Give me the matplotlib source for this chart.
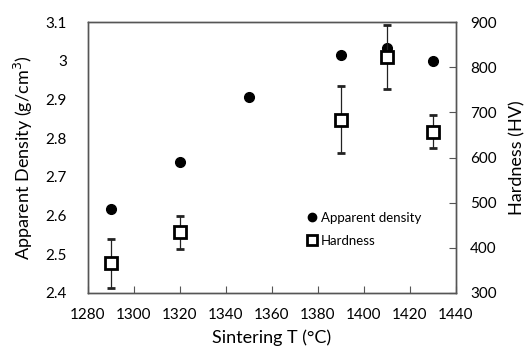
import matplotlib
matplotlib.use("Agg")
import matplotlib.pyplot as plt
from matplotlib.lines import Line2D

temps = [1290, 1320, 1350, 1390, 1410, 1430]
density = [2.617, 2.738, 2.907, 3.015, 3.034, 3.000]
h_temps = [1290, 1320, 1390, 1410, 1430]
hardness = [366, 434, 684, 823, 657]
hardness_err = [54, 37, 74, 71, 37]

plt.rcParams['font.family'] = ['Lato', 'DejaVu Sans']

fig = plt.figure(figsize=(5.25, 3.5), dpi=100)
ax = fig.add_axes([88/525, 1-293/350, 368/525, 271/350])
ax2 = ax.twinx()

ax.plot(temps, density, 'o', color='black', markersize=7, zorder=3)
ax2.errorbar(h_temps, hardness, yerr=hardness_err, fmt='s', mfc='white', mec='black',
             mew=2, markersize=8, ecolor='#222222', elinewidth=0.9, capsize=3, capthick=0.9,
             zorder=3)

ax.set_xlim(1280, 1440)
ax.set_ylim(2.4, 3.1)
ax2.set_ylim(300, 900)
ax.set_xticks(range(1280, 1441, 20))
ax.set_yticks([2.4, 2.5, 2.6, 2.7, 2.8, 2.9, 3.0, 3.1])
ax.set_yticklabels(['2.4', '2.5', '2.6', '2.7', '2.8', '2.9', '3', '3.1'])
ax2.set_yticks(range(300, 901, 100))

ax.tick_params(axis='x', direction='in', length=5, labelsize=11, pad=11, color='#555555')
ax.tick_params(axis='y', length=0, labelsize=11, pad=15)
ax2.tick_params(axis='y', direction='in', length=5, labelsize=11, pad=10, color='#555555')
for a in (ax, ax2):
    for s in a.spines.values():
        s.set_color('#555555')
        s.set_linewidth(1)

ax.set_xlabel('Sintering T (°C)', fontsize=13, labelpad=5)
ax.set_ylabel('Apparent Density (g/cm$^3$)', fontsize=13, labelpad=8)
ax2.set_ylabel('Hardness (HV)', fontsize=13, labelpad=9)

handles = [
    Line2D([], [], marker='o', ls='none', color='black', markersize=6),
    Line2D([], [], marker='s', ls='none', mfc='white', mec='black', mew=2, markersize=6.5),
]
ax2.legend(handles, ['Apparent density', 'Hardness'], loc='center left',
           bbox_to_anchor=(0.555, 0.235), frameon=False,
           fontsize=9.5, handletextpad=0.05, handlelength=1.2, labelspacing=0.8)

fig.savefig('out.png', dpi=100)
